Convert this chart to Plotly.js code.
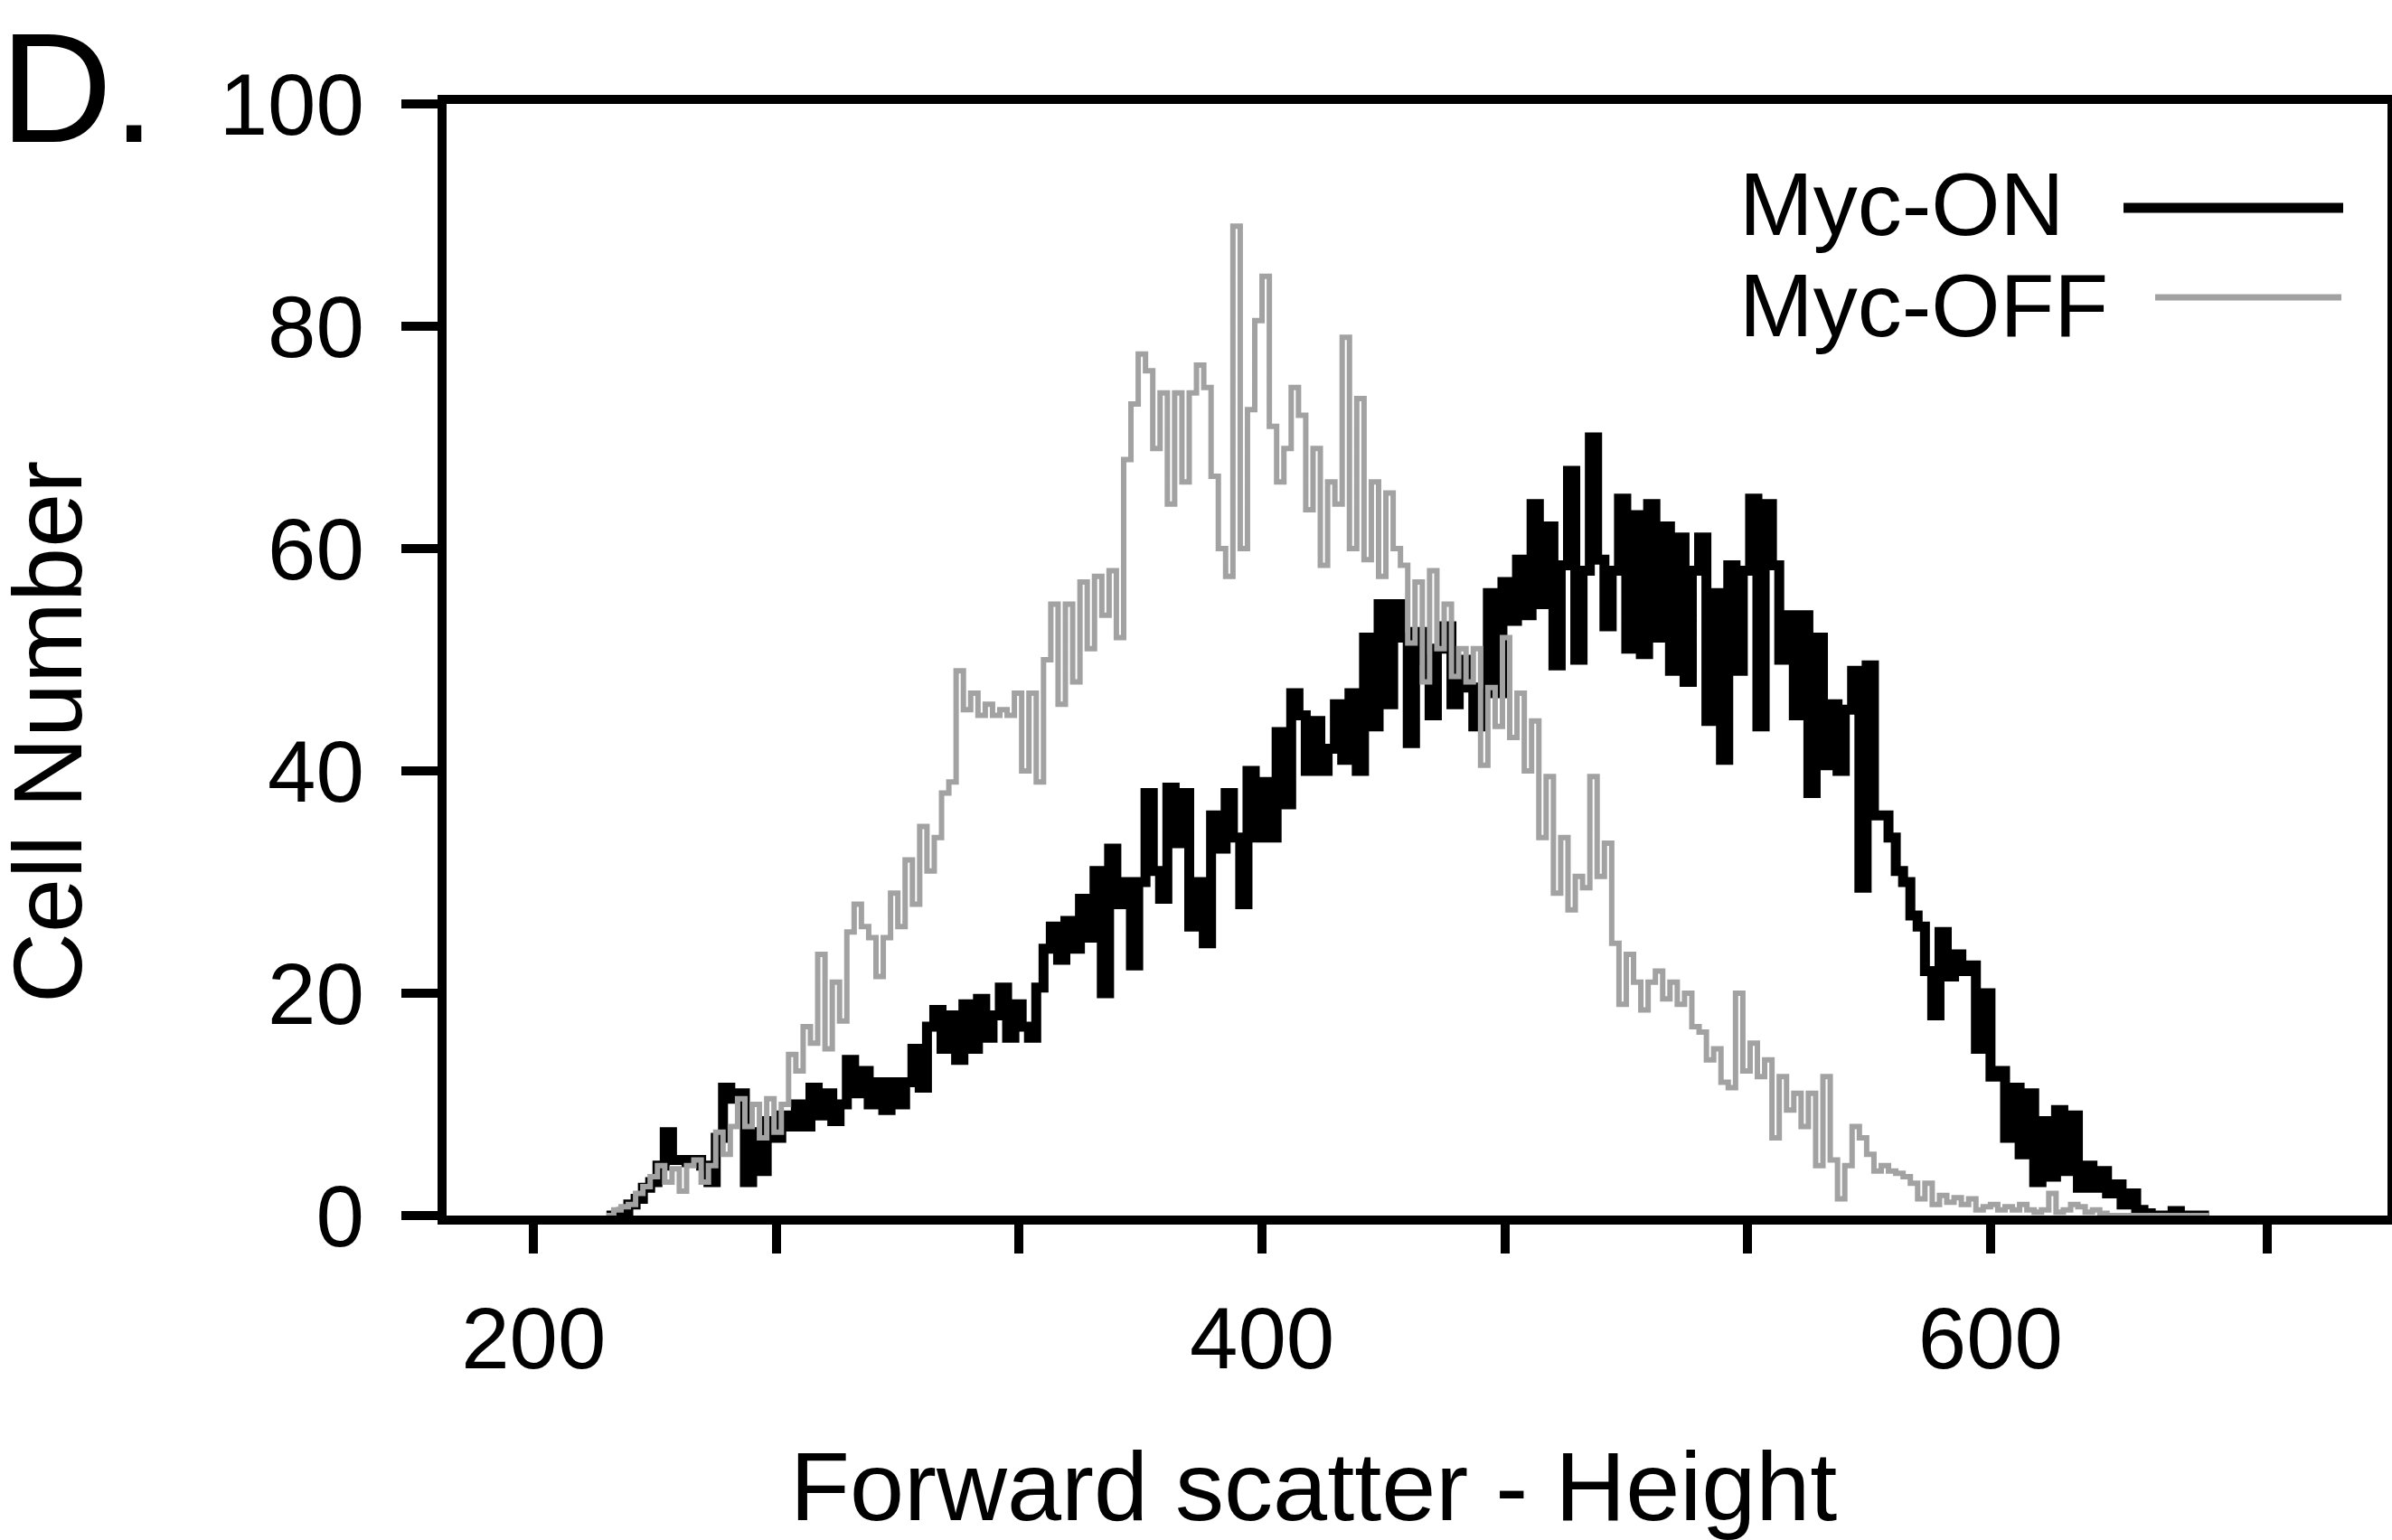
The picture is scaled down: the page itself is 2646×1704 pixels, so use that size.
<!DOCTYPE html>
<html>
<head>
<meta charset="utf-8">
<script src="https://cdn.plot.ly/plotly-3.0.1.min.js"></script>
<style>
  html, body { margin: 0; padding: 0; background: #ffffff; }
  #chart { width: 2646px; height: 1704px; }
</style>
</head>
<body>
<div id="chart"></div>
<script>
// ---- data ----
// histogram channels: Forward scatter - Height, 2-unit bins from 220 to 660
var channelStart = 220;
var channelStep = 2;

var mycOn = [
  0,0,0.3,1,1.5,2.5,3,4.5,7.5,5,
  5,4.8,5,4.5,3,7,11.5,10.5,11,3,
  7.5,4,8.5,7,9,8,10,8,11.5,9,
  11,8.5,10,14,11,13,10,12,9.5,12,
  10,12,15,11.5,17,18.5,15,18,14,19,
  15,19.5,16,18,20.5,16,19,17,16,20.5,
  24,26,23,26.5,24,28.5,25,31,20,33,
  28,30,22.5,30,38,31,28.5,38.5,33.5,38,
  26,30,24.5,36,33,38,34,28,40,34,
  39,34,43.5,37,47,45,40,44.5,40,42,
  46,41,47,40,52,44,55,46,55,52,
  42.5,52.5,50,45,51,53,46,50,47.5,44,
  47,56,47,57,53.5,59,54,64,55,62,
  49.5,58.5,67,50,58,70,59,53,58,64.5,
  51,63,50.5,64,52,62,49,61,48,58,
  61,44.5,56,41,58.5,49,58,64.5,44,64,
  58.5,50,54,45,54,38,52,40.5,46,40,
  45.5,49,29.5,49.5,36,36,34,31,30,27,
  26,22,18,25.5,21.5,23.5,22,22.5,15,20,
  12.5,13,7,11.5,5.5,11,3,8.5,3.5,9.5,
  4,9,2.5,4.5,2.5,4,2,2.8,1,2,
  0.5,0.2,0,0,0,0.4,0,0,0,0,
  0
];

var mycOff = [
  0,0.5,0.8,1,2,2.6,3.5,4.5,3,4.2,
  2.2,4.5,5,3,4.5,7.5,5.5,8,10.5,8,
  10,7,10.5,7.5,10,14.5,13,17,15.5,23.5,
  15,21,17.5,25.5,28,26,25,21.5,25,29,
  26,32,28,35,31,34,38,39,49,45.5,
  47,45,46,45,45.5,45,47,40,47,39,
  50,55,46,55,48,57,51,57.5,54,58,
  52,68,73,77.5,76,69,74,64,74,66,
  74,76.5,74.5,66.5,60,57.5,89,60,72.5,80.5,
  84.5,71,66,69,74.5,72,63.5,69,58.5,66,
  64,79,60,73.5,59,66,57.5,65,60,58.5,
  51.5,57,48,58,51,55,48.5,51,48,51,
  40.5,47.5,44,52,43,47,40,44.5,34,39.5,
  29,34,27.5,30.5,29.5,39.5,30.5,33.5,24.5,19,
  23.5,21,18.5,21,22,19.5,21,19,20,17,
  16.5,14,15,12,11.5,20,13,15.5,12.5,14,
  7,12.5,9.5,11,8,11,4.5,12.5,5,1.5,
  4.5,8,7,5.5,4,4.5,4,3.8,3.5,2.9,
  1.5,2.9,1,1.8,1.2,1.6,1,1.5,0.5,0.8,
  1,0.5,0.8,0.5,1,0.5,0.3,0.5,2,0.3,
  0.5,1,0.8,0.3,0.5,0.2,0,0,0,0,
  0,0,0,0,0,0,0,0,0,0,
  0
];

var xTickVals = [200, 266.67, 333.33, 400, 466.67, 533.33, 600, 676];
var xTickText = ["200", "", "", "400", "", "", "600", ""];
var yTickVals = [0, 20, 40, 60, 80, 100];
var yTickText = ["0", "20", "40", "60", "80", "100"];
var seriesNames = ["Myc-ON", "Myc-OFF"];

// ---- build ----
var channels = [];
for (var i = 0; i < mycOn.length; i++) channels.push(channelStart + i * channelStep);

var W = 2646, H = 1704;
var L = 494, R = 2641, T = 115, B = 1345;
function px(x) { return (x - L) / (R - L); }
function py(y) { return (B - y) / (B - T); }

var FONT = "Liberation Sans, Arial, Helvetica, sans-serif";
var GREY = "#a2a2a2";

var traces = [
  {
    x: channels, y: mycOn, type: "scatter", mode: "lines",
    line: { shape: "hv", color: "#000000", width: 11 },
    name: seriesNames[0], showlegend: false, hoverinfo: "skip"
  },
  {
    x: channels, y: mycOff, type: "scatter", mode: "lines",
    line: { shape: "hv", color: GREY, width: 6 },
    name: seriesNames[1], showlegend: false, hoverinfo: "skip"
  }
];

var layout = {
  width: W, height: H,
  margin: { l: L, r: W - R, t: T, b: H - B, pad: 0 },
  paper_bgcolor: "#ffffff", plot_bgcolor: "#ffffff",
  font: { family: FONT, color: "#000000", size: 96 },
  showlegend: false,
  xaxis: {
    range: [176.1, 709], showgrid: false, zeroline: false,
    showline: true, linecolor: "#000000", linewidth: 10, mirror: true,
    ticks: "outside", ticklen: 32, tickwidth: 10, tickcolor: "#000000",
    tickmode: "array", tickvals: xTickVals, ticktext: xTickText,
    tickfont: { family: FONT, size: 96, color: "#000000" },
    ticklabelstandoff: 12, automargin: false, fixedrange: true
  },
  yaxis: {
    range: [0, 100], showgrid: false, zeroline: false,
    showline: true, linecolor: "#000000", linewidth: 10, mirror: true,
    ticks: "outside", ticklen: 40, tickwidth: 10, tickcolor: "#000000",
    tickmode: "array", tickvals: yTickVals, ticktext: yTickText,
    tickfont: { family: FONT, size: 96, color: "#000000" },
    ticklabelstandoff: 22, automargin: false, fixedrange: true
  },
  annotations: [
    { text: "D.", xref: "paper", yref: "paper", x: px(-2), y: py(97),
      xanchor: "left", yanchor: "middle", showarrow: false,
      font: { family: FONT, size: 172, color: "#000000" } },
    { text: "Cell Number", xref: "paper", yref: "paper", x: px(52), y: py(810),
      xanchor: "center", yanchor: "middle", textangle: -90, showarrow: false,
      font: { family: FONT, size: 108, color: "#000000" } },
    { text: "Forward scatter - Height", xref: "paper", yref: "paper", x: px(1453), y: py(1644),
      xanchor: "center", yanchor: "middle", showarrow: false,
      font: { family: FONT, size: 108, color: "#000000" } },
    { text: seriesNames[0], xref: "paper", yref: "paper", x: px(1922), y: py(226),
      xanchor: "left", yanchor: "middle", showarrow: false,
      font: { family: FONT, size: 98, color: "#000000" } },
    { text: seriesNames[1], xref: "paper", yref: "paper", x: px(1922), y: py(338),
      xanchor: "left", yanchor: "middle", showarrow: false,
      font: { family: FONT, size: 98, color: "#000000" } }
  ],
  shapes: [
    { type: "line", xref: "paper", yref: "paper", x0: px(2349), x1: px(2592), y0: py(230), y1: py(230),
      line: { color: "#000000", width: 11 } },
    { type: "line", xref: "paper", yref: "paper", x0: px(2384), x1: px(2590), y0: py(329), y1: py(329),
      line: { color: GREY, width: 7 } }
  ]
};

Plotly.newPlot("chart", traces, layout, { staticPlot: true, displayModeBar: false });
</script>
</body>
</html>
